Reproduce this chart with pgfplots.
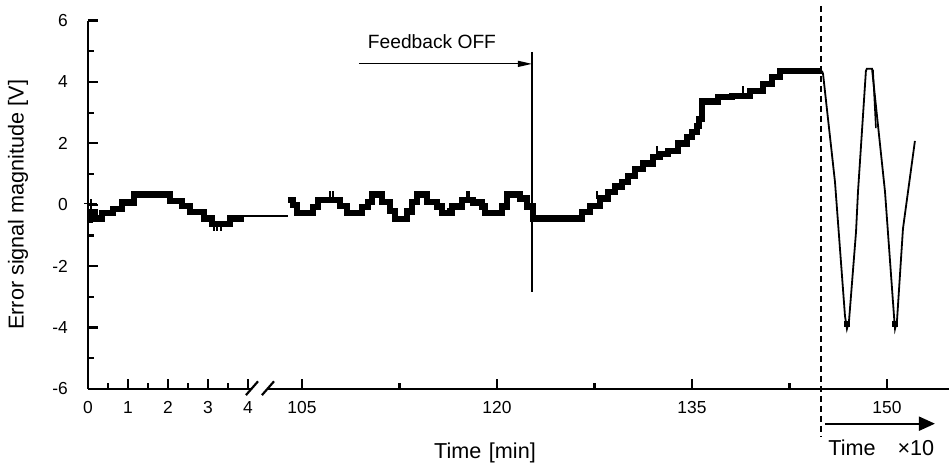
\documentclass[border=0pt]{standalone}
\usepackage{pgfplots}
\pgfplotsset{compat=1.18}
\usepackage{pgfplotstable}
\usepackage{fontspec}
\setmainfont{Liberation Sans}
\usetikzlibrary{arrows.meta}

% first part, real time in min (0..4), mapped onto the broken axis
\pgfplotstableread{
t v
0 -0.5
0.05 -0.25
0.17 -0.45
0.35 -0.27
0.62 -0.13
0.85 0.08
1.15 0.33
2.05 0.13
2.35 -0.03
2.55 -0.23
2.9 -0.45
3.1 -0.62
3.55 -0.45
3.9 -0.45
}\segA

% second part, time in min (staircase levels)
\pgfplotstableread{
x v
103.92 0.15
104.31 0.0
104.62 -0.26
105.85 -0.07
106.23 0.15
107.92 -0.03
108.46 -0.27
109.62 -0.07
110.08 0.1
110.38 0.33
111.15 0.1
111.77 -0.2
112.15 -0.47
113.08 -0.22
113.46 0.1
113.85 0.33
114.62 0.1
115.38 -0.05
115.77 -0.27
116.54 -0.05
117.31 0.15
118.15 0.08
118.85 -0.05
119.08 -0.26
120.38 -0.05
120.77 0.33
121.77 0.2
122.31 -0.05
122.77 -0.45
126.54 -0.23
127.15 -0.03
127.92 0.2
128.54 0.42
129.08 0.59
129.62 0.75
130.08 0.94
130.62 1.17
131.23 1.34
132.0 1.56
132.54 1.66
133.15 1.76
133.92 1.99
134.62 2.21
135.0 2.38
135.38 2.57
135.54 2.8
135.77 3.36
137.0 3.52
138.08 3.55
139.46 3.71
140.46 3.94
141.15 4.17
141.77 4.36
145.0 4.36
}\segB

% after the dashed line (time x10)
\pgfplotstableread{
x v
145.0 4.36
145.08 4.27
146.0 0.75
146.77 -3.62
146.92 -4.04
147.08 -3.78
147.62 -0.88
147.77 0.42
148.38 4.36
148.45 4.43
148.85 4.43
149.85 0.42
150.54 -3.62
150.62 -4.04
150.77 -3.78
151.23 -0.78
152.15 2.08
}\segC

\begin{document}
\begin{tikzpicture}
\useasboundingbox (0,0) rectangle (474.5pt,232.5pt);
\begin{axis}[
  at={(44pt,38pt)}, anchor=south west,
  x=6.5pt, y=15.35pt,
  xmin=88.54, xmax=154.77, ymin=-6, ymax=6,
  axis lines=left,
  axis line style={-, line width=1.3pt},
  x axis line style={draw=none},
  clip=false,
  tick align=inside,
  major tick length=5pt, minor tick length=2.8pt,
  every tick/.style={black, line width=1.1pt},
  xtick={88.54,91.62,94.69,97.77,100.85,105,120,135,150},
  xticklabels={0,1,2,3,4,105,120,135,150},
  minor xtick={90.08,93.15,96.23,99.31,112.5,127.5,142.5},
  ytick={-6,-4,-2,0,2,4,6},
  yticklabels={-6,-4,-2,0,2,4,6},
  minor ytick={-5,-3,-1,1,3,5},
  tick label style={font=\fontsize{8.7}{10.4}\selectfont},
  xticklabel style={yshift=-2.7pt},
  yticklabel style={xshift=-6.6pt},
  ylabel={Error signal magnitude [V]},
  every axis y label/.style={at={(axis description cs:-0.0813,0.5)}, rotate=90, anchor=center, font=\fontsize{10.8}{13}\selectfont},
  xlabel={Time\hspace{3.8pt}[min]},
  every axis x label/.style={at={(axis cs:119.08,-8.27)}, anchor=base, font=\fontsize{10.8}{13}\selectfont},
]
% broken x axis line
\draw[line width=1.3pt] (axis cs:88.54,-6) -- (axis cs:101.15,-6);
\draw[line width=1.3pt] (axis cs:102.38,-6) -- (axis cs:154.77,-6);
\draw[line width=1.1pt] (axis cs:100.69,-6.2) -- (axis cs:101.62,-5.75);
\draw[line width=1.1pt] (axis cs:101.92,-6.2) -- (axis cs:102.85,-5.75);

\addplot[black, line width=3.2pt, const plot] table[x expr=88.54+3.0769*\thisrow{t}, y=v] {\segA};
\addplot[black, line width=0.7pt] coordinates {(100.46,-0.36) (103.92,-0.36)};
\addplot[black, line width=3.2pt, const plot] table[x=x, y=v] {\segB};
\addplot[black, line width=0.9pt] table[x=x, y=v] {\segC};
\addplot[black, line width=0.8pt] coordinates {(148.92,4.4) (149.15,2.5)};
\addplot[black, only marks, mark=square*, mark size=1.4pt] coordinates {(146.92,-3.88) (150.62,-3.88)};
% small spikes of the recorded signal
\addplot[black, line width=0.6pt, unbounded coords=jump] coordinates {
 (88.77,-0.23) (88.77,0.2) (88.77,nan)
 (88.77,0.03) (88.24,0.03) (88.24,nan)
 (88.77,0.03) (89.25,0.03) (89.25,nan)
 (107.15,0.15) (107.15,0.45) (107.15,nan)
 (107.38,0.15) (107.38,0.45) (107.38,nan)
 (116.23,-0.27) (116.23,-0.1) (116.23,nan)
 (117.69,0.15) (117.69,0.45) (117.69,nan)
 (117.85,0.15) (117.85,0.45) (117.85,nan)
 (127.69,0.2) (127.69,0.45) (127.69,nan)
 (132.31,1.66) (132.31,1.9) (132.31,nan)
 (138.92,3.55) (138.92,3.88) (138.92,nan)
 (98.23,-0.62) (98.23,-0.85) (98.23,nan)
 (98.46,-0.62) (98.46,-0.85) (98.46,nan)
 (98.77,-0.62) (98.77,-0.85)
};

% feedback off marker
\draw[line width=0.8pt] (axis cs:122.69,4.98) -- (axis cs:122.69,-2.83);
\draw[line width=0.6pt, -{Triangle[length=7pt,width=3pt]}] (axis cs:109.38,4.59) -- (axis cs:122.69,4.59);
\node[font=\fontsize{9.6}{11.5}\selectfont] at (axis cs:115,5.31) {Feedback OFF};
% scale change
\draw[line width=1pt, dash pattern=on 3.3pt off 1.7pt] (axis cs:144.92,6.48) -- (axis cs:144.92,-7.56);
\draw[line width=1pt, -{Triangle[length=8pt,width=7pt]}] (axis cs:145.23,-7.13) -- (axis cs:153.69,-7.13);
\node[anchor=base west, inner sep=0pt, font=\fontsize{10.8}{13}\selectfont] at (axis cs:145.46,-8.17) {Time\hspace{11pt}×10};
\end{axis}
\end{tikzpicture}
\end{document}
